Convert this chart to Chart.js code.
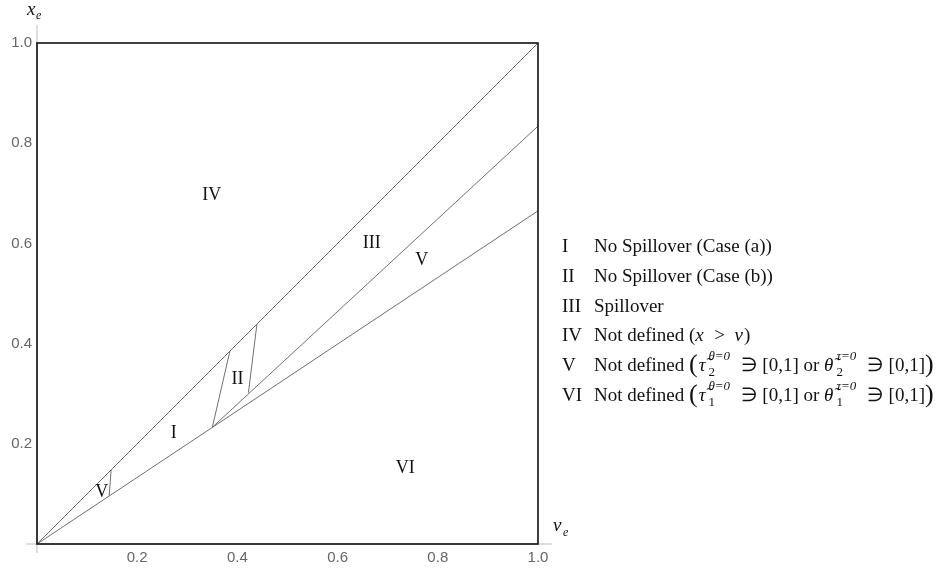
<!DOCTYPE html>
<html>
<head>
<meta charset="utf-8">
<title>Spillover regions</title>
<script src="https://cdn.jsdelivr.net/npm/chart.js"></script>
<style>
    body { margin: 0; background: #fff; }
</style>
</head>
<body>
<canvas id="regionChart" width="944" height="571"></canvas>
<script>
// boundary lines, end points as (v_e, x_e)
const diagonal = [{x: 0, y: 0}, {x: 1, y: 1}];
const lowerEdge = [{x: 0, y: 0}, {x: 1, y: 0.665}];
const middleEdge = [{x: 0.35, y: 0.233}, {x: 1, y: 0.834}];
const caseLeftEdge = [{x: 0.35, y: 0.233}, {x: 0.385, y: 0.385}];
const caseRightEdge = [{x: 0.422, y: 0.302}, {x: 0.439, y: 0.439}];
const cornerEdge = [{x: 0.144, y: 0.096}, {x: 0.148, y: 0.148}];

const tickValues = [0.2, 0.4, 0.6, 0.8, 1.0];

// region labels inside the plot
const regionNames = ['IV', 'III', 'V', 'II', 'I', 'V', 'VI'];
const regionX = [0.349, 0.668, 0.768, 0.400, 0.273, 0.129, 0.735];
const regionY = [0.697, 0.600, 0.567, 0.329, 0.221, 0.104, 0.152];

// key on the right: *..* italic, {sub|sup} stacked index, «..» tall bracket
const legendKeys = ['I', 'II', 'III', 'IV', 'V', 'VI'];
const legendTexts = [
    'No Spillover (Case (a))',
    'No Spillover (Case (b))',
    'Spillover',
    'Not defined (*x*  >  *v*)',
    'Not defined «(»*τ̃*{2|θ=0}  ∋ [0,1] or *θ̃*{2|τ=0}  ∋ [0,1]«)»',
    'Not defined «(»*τ̃*{1|θ=0}  ∋ [0,1] or *θ̃*{1|τ=0}  ∋ [0,1]«)»'
];

const SERIF = '"Liberation Serif", "Times New Roman", serif';
const SANS = '"Liberation Sans", Arial, sans-serif';

function drawRich(ctx, str, x, y, size) {
    const small = Math.round(size * 0.66);
    const parts = str.split(/(\*[^*]+\*|\{[^}]+\}|«[^»]+»)/).filter(Boolean);
    parts.forEach(p => {
        if (p[0] === '*') {
            ctx.font = 'italic ' + size + 'px ' + SERIF;
            const t = p.slice(1, -1);
            ctx.fillText(t, x, y);
            x += ctx.measureText(t).width + 1;
        } else if (p[0] === '«') {
            const t = p.slice(1, -1);
            ctx.font = Math.round(size * 1.35) + 'px ' + SERIF;
            ctx.fillText(t, x, y - 1);
            x += ctx.measureText(t).width + 1;
        } else if (p[0] === '{') {
            const [sub, sup] = p.slice(1, -1).split('|');
            x += 2;
            ctx.font = small + 'px ' + SERIF;
            ctx.fillText(sub, x, y + size * 0.34);
            const w1 = ctx.measureText(sub).width;
            ctx.font = 'italic ' + small + 'px ' + SERIF;
            ctx.fillText(sup, x, y - size * 0.5);
            const w2 = ctx.measureText(sup).width;
            x += Math.max(w1, w2) + 1;
        } else {
            ctx.font = size + 'px ' + SERIF;
            ctx.fillText(p, x, y);
            x += ctx.measureText(p).width;
        }
    });
}

const decorations = {
    id: 'decorations',
    afterDraw(chart) {
        const ctx = chart.ctx;
        const area = chart.chartArea;
        const xs = chart.scales.x;
        const ys = chart.scales.y;
        ctx.save();

        // thin axes through the origin
        ctx.strokeStyle = '#bdbdbd';
        ctx.lineWidth = 1;
        ctx.beginPath();
        ctx.moveTo(area.left, area.top - 18);
        ctx.lineTo(area.left, area.bottom + 9);
        ctx.moveTo(area.left - 11, area.bottom);
        ctx.lineTo(area.right + 14, area.bottom);
        ctx.stroke();

        // frame
        ctx.strokeStyle = '#111';
        ctx.lineWidth = 1.6;
        ctx.strokeRect(area.left, area.top, area.right - area.left, area.bottom - area.top);

        // region labels
        ctx.fillStyle = '#111';
        ctx.font = '18px ' + SERIF;
        ctx.textAlign = 'center';
        ctx.textBaseline = 'middle';
        regionNames.forEach((name, i) => {
            ctx.fillText(name, xs.getPixelForValue(regionX[i]), ys.getPixelForValue(regionY[i]));
        });

        // axis titles
        ctx.textAlign = 'left';
        ctx.textBaseline = 'alphabetic';
        ctx.font = 'italic 19px ' + SERIF;
        ctx.fillText('x', area.left - 10, area.top - 28);
        ctx.font = 'italic 12px ' + SERIF;
        ctx.fillText('e', area.left - 1, area.top - 24);
        ctx.font = 'italic 19px ' + SERIF;
        ctx.fillText('v', area.right + 15, area.bottom - 13);
        ctx.font = 'italic 12px ' + SERIF;
        ctx.fillText('e', area.right + 25, area.bottom - 8);

        // key
        ctx.textBaseline = 'middle';
        legendKeys.forEach((key, i) => {
            const y = 247 + i * 29.8;
            ctx.font = '19px ' + SERIF;
            ctx.fillText(key, 562, y);
            drawRich(ctx, legendTexts[i], 594, y, 19);
        });
        ctx.restore();
    }
};

function line(data) {
    return {
        data: data,
        showLine: true,
        pointRadius: 0,
        borderColor: '#707070',
        borderWidth: 1,
        fill: false
    };
}

const axisTicks = {
    color: '#666',
    font: {family: SANS, size: 15},
    autoSkip: false,
    maxRotation: 0,
    padding: 5,
    callback: v => v.toFixed(1)
};

new Chart(document.getElementById('regionChart').getContext('2d'), {
    type: 'scatter',
    data: {
        datasets: [
            line(diagonal),
            line(lowerEdge),
            line(middleEdge),
            line(caseLeftEdge),
            line(caseRightEdge),
            line(cornerEdge)
        ]
    },
    options: {
        responsive: false,
        devicePixelRatio: 1,
        animation: false,
        layout: {padding: {left: 0, top: 43, right: 406, bottom: 0}},
        plugins: {legend: {display: false}, tooltip: {enabled: false}},
        scales: {
            x: {
                type: 'linear', min: 0, max: 1,
                grid: {display: false, drawTicks: false},
                border: {display: false},
                ticks: axisTicks,
                afterBuildTicks: s => { s.ticks = tickValues.map(v => ({value: v})); },
                afterFit: s => { s.height = 27; }
            },
            y: {
                type: 'linear', min: 0, max: 1,
                grid: {display: false, drawTicks: false},
                border: {display: false},
                ticks: axisTicks,
                afterBuildTicks: s => { s.ticks = tickValues.map(v => ({value: v})); },
                afterFit: s => { s.width = 37; }
            }
        }
    },
    plugins: [decorations]
});
</script>
</body>
</html>
